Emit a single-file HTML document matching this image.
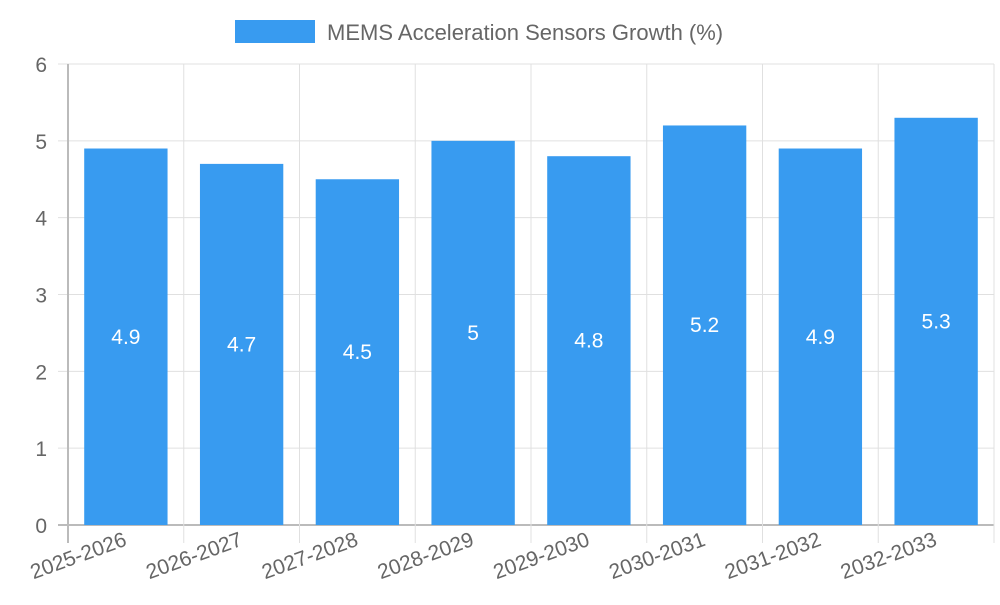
<!DOCTYPE html>
<html><head><meta charset="utf-8"><style>
body{margin:0;background:#fff;}
svg text{font-family:"Liberation Sans",sans-serif;}
</style></head><body>
<svg id="chart" width="1000" height="600" xmlns="http://www.w3.org/2000/svg">
<g id="legend">
<rect x="235" y="20" width="80" height="23" fill="#389bf0"/>
<text x="327" y="40" font-size="22" fill="#666">MEMS Acceleration Sensors Growth (%)</text>
</g>
<g id="grid"></g><g id="bars"></g><g id="axes"></g>
</svg>
<script>
const categories=["2025-2026","2026-2027","2027-2028","2028-2029","2029-2030","2030-2031","2031-2032","2032-2033"];
const values=[4.9,4.7,4.5,5,4.8,5.2,4.9,5.3];
const yTicks=[0,1,2,3,4,5,6];
const NS="http://www.w3.org/2000/svg";
const L=68,R=994,T=64,B=525,yMax=6;
const y=v=>B-(v/yMax)*(B-T);
const bw=(R-L)/categories.length;
const xc=i=>L+bw*(i+0.5);
function mk(tag,attrs,parent,txt){const e=document.createElementNS(NS,tag);for(const k in attrs)e.setAttribute(k,attrs[k]);if(txt!==undefined)e.textContent=txt;parent.appendChild(e);return e;}
const grid=document.getElementById('grid'),bars=document.getElementById('bars'),axes=document.getElementById('axes');
yTicks.forEach(t=>{
 const l=mk('line',{x1:58,x2:R,y1:y(t),y2:y(t),stroke:t===0?'#bbb':'#e0e0e0','stroke-width':t===0?2:1},grid);
 
 
 const tx=mk('text',{x:47,y:y(t)+8,'font-size':21,fill:'#666','text-anchor':'end'},axes,String(t));
 
 
});
for(let i=0;i<=categories.length;i++){
 const x=L+bw*i;
 const l=mk('line',{x1:x,x2:x,y1:T,y2:B+18,stroke:i===0?'#bbb':'#e0e0e0','stroke-width':i===0?2:1},grid);
 
 
}
categories.forEach((c,i)=>{
 const w=bw*0.72,x=xc(i)-w/2;
 const r=mk('rect',{x:x,y:y(values[i]),width:w,height:B-y(values[i]),fill:'#389bf0'},bars);
 
 
 const v=mk('text',{x:xc(i),y:(y(values[i])+B)/2+7,'font-size':21,fill:'#fff','text-anchor':'middle'},bars,String(values[i]));
 
 
 const lx=xc(i)+2,ly=545;
 const t=mk('text',{x:lx,y:ly,'font-size':21,fill:'#666','text-anchor':'end',transform:`rotate(-20 ${lx} ${ly})`},axes,c);
 
 
});
</script>
</body></html>
